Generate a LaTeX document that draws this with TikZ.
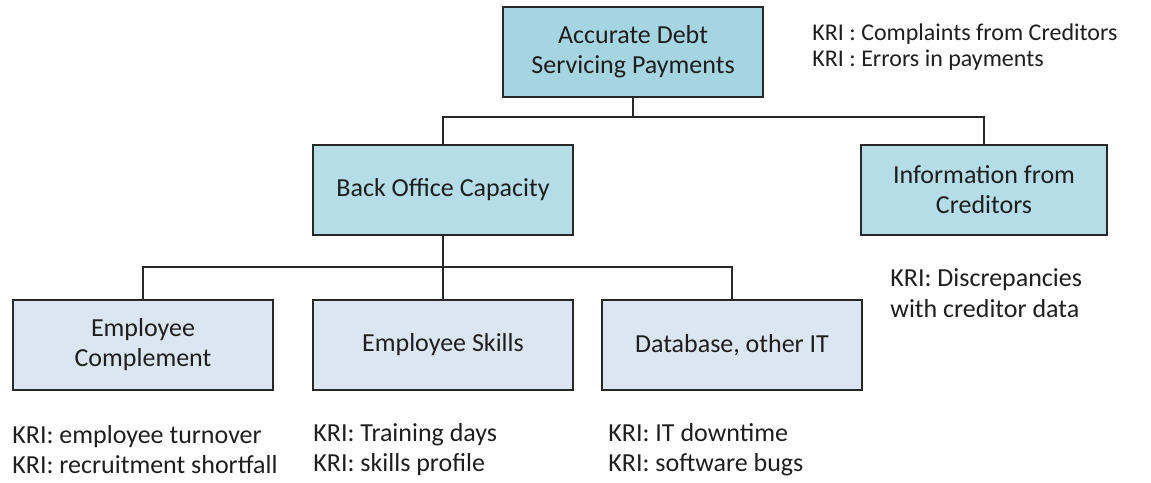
\documentclass[tikz,border=0pt]{standalone}
\usepackage{fontspec}
\setmainfont{Carlito}
\usetikzlibrary{positioning}
\definecolor{topblue}{RGB}{165,213,224}
\definecolor{midblue}{RGB}{180,221,232}
\definecolor{lowblue}{RGB}{220,230,242}
\definecolor{edge}{RGB}{40,40,40}
\definecolor{ink}{RGB}{30,30,30}

\begin{document}
\begin{tikzpicture}[x=0.5pt,y=-0.5pt,
    box/.style={draw=edge, line width=0.8pt, minimum width=130pt, minimum height=45pt,
        align=center, inner sep=0pt, font=\fontsize{13}{15}\selectfont, text=ink},
    kri/.style={anchor=west, align=left, inner sep=0pt, font=\fontsize{13}{15}\selectfont, text=ink},
    link/.style={draw=edge, line width=0.8pt}]
    \useasboundingbox (0,0) rectangle (1151,482);

    % Draw the boxes
    \node[box, fill=topblue] (goal) at (633,52) {Accurate Debt\\Servicing Payments};
    \node[box, fill=midblue] (backoffice) at (443,190) {Back Office Capacity};
    \node[box, fill=midblue, minimum width=123pt] (info) at (984,190) {Information from\\Creditors};
    \node[box, fill=lowblue] (staff) at (143,345) {Employee\\Complement};
    \node[box, fill=lowblue] (skills) at (443,345) {Employee Skills};
    \node[box, fill=lowblue] (database) at (732,345) {Database, other IT};

    % Draw the connectors
    \coordinate (upper) at (633,117);
    \coordinate (lower) at (443,267);
    \draw[link] (goal.south) -- (upper) -| (backoffice.north);
    \draw[link] (upper) -| (info.north);
    \draw[link] (backoffice.south) -- (lower) -| (staff.north);
    \draw[link] (lower) -| (database.north);
    \draw[link] (lower) -- (skills.north);

    % Label the risk indicators
    \node[kri, font=\fontsize{12}{13}\selectfont] (goalkri) at (812,47) {KRI : Complaints from Creditors\\KRI : Errors in payments};
    \node[kri, font=\fontsize{13}{15.5}\selectfont] (infokri) at (890,293) {KRI: Discrepancies\\with creditor data};
    \node[kri] (staffkri) at (12,450) {KRI: employee turnover\\KRI: recruitment shortfall};
    \node[kri] (skillskri) at (313,450) {KRI: Training days\\KRI: skills profile};
    \node[kri] (dbkri) at (608,450) {KRI: IT downtime\\KRI: software bugs};
\end{tikzpicture}
\end{document}
